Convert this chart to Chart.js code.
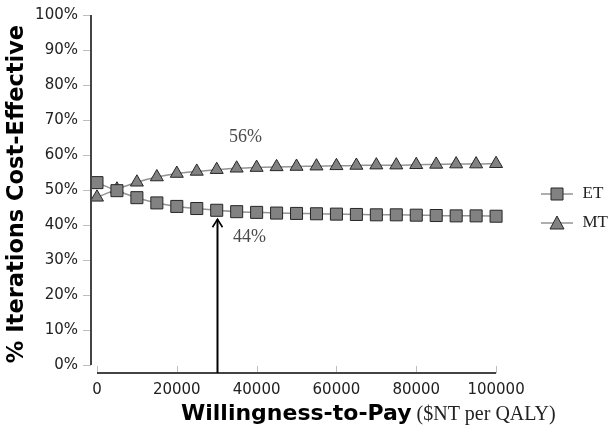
<!DOCTYPE html>
<html>
<head>
<meta charset="utf-8">
<script src="https://cdn.jsdelivr.net/npm/chart.js@4"></script>
<style>
  html, body { margin: 0; padding: 0; background: #fff; }
  #wrap { width: 614px; height: 425px; }
</style>
</head>
<body>
<div id="wrap"><canvas id="ceac"></canvas></div>
<script>
// willingness-to-pay steps ($NT per QALY)
const wtp = [0, 5000, 10000, 15000, 20000, 25000, 30000, 35000, 40000, 45000, 50000,
             55000, 60000, 65000, 70000, 75000, 80000, 85000, 90000, 95000, 100000];
// % of iterations cost-effective
const etValues = [52.1, 49.8, 47.8, 46.3, 45.3, 44.7, 44.2, 43.8, 43.6, 43.4, 43.3,
                  43.2, 43.1, 43.0, 42.9, 42.9, 42.8, 42.7, 42.6, 42.6, 42.5];
const mtValues = [47.9, 50.2, 52.2, 53.7, 54.7, 55.3, 55.8, 56.2, 56.4, 56.6, 56.7,
                  56.8, 56.9, 57.0, 57.1, 57.1, 57.2, 57.3, 57.4, 57.4, 57.5];
const xTicks = [0, 20000, 40000, 60000, 80000, 100000];
const yTicks = [0, 10, 20, 30, 40, 50, 60, 70, 80, 90, 100];
const arrowAt = 30000;
const etLabel = '44%';
const mtLabel = '56%';

const markerFill = '#828282';
const markerEdge = '#262626';
const lineGray = '#939393';

// legend symbols: a short line with the marker on it
function legendSymbol(shape) {
    const c = document.createElement('canvas');
    c.width = 34; c.height = 18;
    const g = c.getContext('2d');
    g.strokeStyle = lineGray;
    g.lineWidth = 1.5;
    g.beginPath(); g.moveTo(1, 9); g.lineTo(33, 9); g.stroke();
    g.fillStyle = markerFill;
    g.strokeStyle = markerEdge;
    g.lineWidth = 1;
    g.beginPath();
    if (shape === 'rect') {
        g.rect(11, 3, 12, 12);
    } else {
        g.moveTo(17, 2); g.lineTo(24, 15); g.lineTo(10, 15); g.closePath();
    }
    g.fill(); g.stroke();
    return c;
}

// axes, ticks, arrow and the two labels
const extras = {
    id: 'extras',
    afterDraw(chart) {
        const ctx = chart.ctx;
        const x = chart.scales.x, y = chart.scales.y;
        const area = chart.chartArea;
        ctx.save();

        // tick marks
        ctx.strokeStyle = '#bdbdbd';
        ctx.lineWidth = 1;
        yTicks.forEach(v => {
            const py = Math.round(y.getPixelForValue(v)) + 0.5;
            ctx.beginPath(); ctx.moveTo(area.left - 8, py); ctx.lineTo(area.left, py); ctx.stroke();
        });
        xTicks.forEach(v => {
            const px = Math.round(x.getPixelForValue(v)) + 0.5;
            ctx.beginPath(); ctx.moveTo(px, area.bottom); ctx.lineTo(px, area.bottom - 7); ctx.stroke();
        });

        // axis lines
        ctx.strokeStyle = '#444';
        ctx.lineWidth = 2;
        ctx.beginPath();
        ctx.moveTo(area.left, y.getPixelForValue(100));
        ctx.lineTo(area.left, y.getPixelForValue(0));
        ctx.stroke();
        ctx.beginPath();
        ctx.moveTo(x.getPixelForValue(0), area.bottom);
        ctx.lineTo(x.getPixelForValue(100000), area.bottom);
        ctx.stroke();

        // arrow pointing at the ET value
        const i = wtp.indexOf(arrowAt);
        const ax = Math.round(x.getPixelForValue(arrowAt)) + 0.5;
        const tip = y.getPixelForValue(etValues[i]) + 9;
        ctx.strokeStyle = '#000';
        ctx.lineWidth = 2;
        ctx.beginPath(); ctx.moveTo(ax, area.bottom); ctx.lineTo(ax, tip); ctx.stroke();
        ctx.lineWidth = 1.6;
        ctx.beginPath();
        ctx.moveTo(ax - 5, tip + 8); ctx.lineTo(ax, tip); ctx.lineTo(ax + 5, tip + 8);
        ctx.stroke();

        // value labels
        ctx.fillStyle = '#4a4a4a';
        ctx.font = '18px "Liberation Serif"';
        ctx.textAlign = 'center';
        ctx.textBaseline = 'middle';
        ctx.fillText(mtLabel, ax + 28, y.getPixelForValue(mtValues[i]) - 32);
        ctx.fillText(etLabel, ax + 32, y.getPixelForValue(etValues[i]) + 27);

        // x axis title, two fonts
        const t1 = 'Willingness-to-Pay';
        const t2 = ' ($NT per QALY)';
        ctx.textAlign = 'left';
        ctx.textBaseline = 'alphabetic';
        ctx.font = 'bold 22px "DejaVu Sans"';
        const w1 = ctx.measureText(t1).width;
        const start = 181;
        const base = area.bottom + 47;
        ctx.fillStyle = '#000';
        ctx.fillText(t1, start, base);
        ctx.fillStyle = '#222';
        ctx.font = '20px "Liberation Serif"';
        ctx.fillText(t2, start + w1, base);
        ctx.restore();
    }
};

new Chart(document.getElementById('ceac'), {
    type: 'line',
    data: {
        labels: wtp,
        datasets: [
            {
                label: 'ET',
                data: wtp.map((w, i) => ({ x: w, y: etValues[i] })),
                borderColor: lineGray,
                borderWidth: 1.5,
                pointStyle: 'rect',
                pointRadius: 8.5,
                pointBackgroundColor: markerFill,
                pointBorderColor: markerEdge,
                pointBorderWidth: 1,
                cubicInterpolationMode: 'monotone',
                clip: false
            },
            {
                label: 'MT',
                data: wtp.map((w, i) => ({ x: w, y: mtValues[i] })),
                borderColor: lineGray,
                borderWidth: 1.5,
                pointStyle: 'triangle',
                pointRadius: 7.5,
                pointBackgroundColor: markerFill,
                pointBorderColor: markerEdge,
                pointBorderWidth: 1,
                cubicInterpolationMode: 'monotone',
                clip: false
            }
        ]
    },
    options: {
        responsive: true,
        maintainAspectRatio: false,
        animation: false,
        layout: { padding: { top: -8, left: 4, right: -4, bottom: 0 } },
        plugins: {
            tooltip: { enabled: false },
            legend: {
                position: 'right',
                labels: {
                    usePointStyle: true,
                    pointStyleWidth: 34,
                    padding: 12,
                    color: '#222',
                    font: { family: 'Liberation Serif', size: 17 },
                    generateLabels: chart => chart.data.datasets.map((ds, i) => ({
                        text: ds.label,
                        datasetIndex: i,
                        pointStyle: legendSymbol(i === 0 ? 'rect' : 'triangle'),
                        fontColor: '#222',
                        lineWidth: 0,
                        strokeStyle: 'transparent',
                        fillStyle: 'transparent'
                    }))
                }
            }
        },
        scales: {
            x: {
                type: 'linear',
                min: -1500,
                max: 108000,
                grid: { display: false, drawTicks: false },
                border: { display: false },
                afterBuildTicks: s => { s.ticks = xTicks.map(v => ({ value: v })); },
                afterFit: s => { s.height = 52; },
                ticks: {
                    padding: 8,
                    color: '#222',
                    font: { family: 'DejaVu Sans', size: 15 },
                    maxRotation: 0,
                    autoSkip: false,
                    callback: v => String(v)
                }
            },
            y: {
                min: -2.3,
                max: 100,
                grid: { display: false, drawTicks: false },
                border: { display: false },
                afterBuildTicks: s => { s.ticks = yTicks.map(v => ({ value: v })); },
                afterFit: s => { s.width = 87; s.paddingTop = 15; s.paddingBottom = 0; },
                ticks: {
                    padding: 13,
                    color: '#222',
                    font: { family: 'DejaVu Sans', size: 15 },
                    callback: v => v + '%'
                },
                title: {
                    display: true,
                    text: '% Iterations Cost-Effective',
                    color: '#000',
                    padding: { top: 0, bottom: 0 },
                    font: { family: 'DejaVu Sans', size: 22.5, weight: 'bold' }
                }
            }
        }
    },
    plugins: [extras]
});
</script>
</body>
</html>
